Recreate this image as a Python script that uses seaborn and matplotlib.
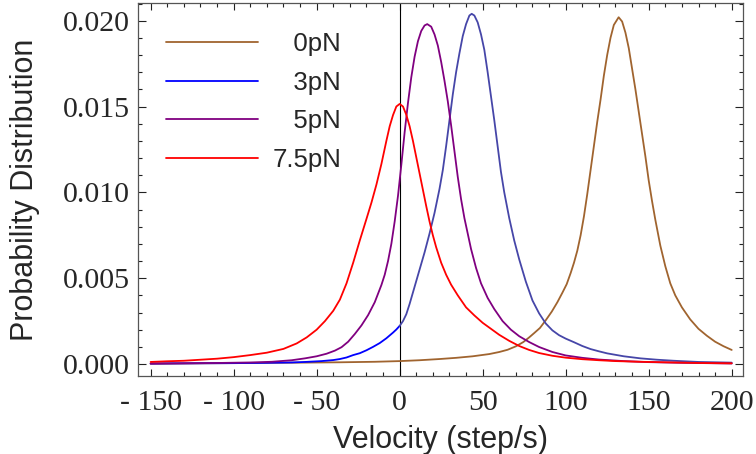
import numpy as np
import pandas as pd
import seaborn as sns
from matplotlib import pyplot as plt
import matplotlib.ticker as ticker
from matplotlib.lines import Line2D

# values (velocity in step/s, probability)
brown_v = [-150, -120, -90, -60, -36, -15, 0, 12, 24, 34, 44, 54, 60, 65, 70, 74.5, 78, 81, 84.5, 88,
           91.6, 95, 98, 100.6, 103, 105, 107, 109, 111, 113, 115, 117, 119, 121, 123, 125, 127, 129,
           131.9, 134, 136, 138, 140, 142, 144, 146, 148, 150, 152, 154, 157, 160, 163, 166, 170,
           175, 180, 185, 190, 195, 200]
brown_p = [0.00002, 0.00004, 0.00006, 0.00008, 0.0001, 0.00013, 0.00017, 0.00022, 0.00029, 0.00036,
           0.00045, 0.00058, 0.0007, 0.00083, 0.00103, 0.00128, 0.00155, 0.0018, 0.0021, 0.00255,
           0.00305, 0.0036, 0.00415, 0.00465, 0.0053, 0.0059, 0.0066, 0.0075, 0.0086, 0.0099,
           0.0113, 0.0127, 0.0141, 0.0154, 0.0168, 0.018, 0.019, 0.01975, 0.0202, 0.01995, 0.0193,
           0.0184, 0.0172, 0.016, 0.0147, 0.0134, 0.0121, 0.0107, 0.0095, 0.0084, 0.0069, 0.0057,
           0.0047, 0.004, 0.0033, 0.0026, 0.00205, 0.00165, 0.0013, 0.00104, 0.00082]

blue_v = [-150, -125, -100, -80, -65, -57, -47, -40, -36, -32, -28, -24, -20, -16, -12, -8, -4, -2, 0,
          2, 4, 6, 9, 12, 15, 18, 21, 24, 26, 28, 30, 32, 34, 36, 38, 40, 42, 43.4, 45, 47, 49, 51,
          53, 55, 57, 59, 61, 63, 66, 69, 72, 76, 80, 84, 88, 92, 96, 100, 105, 110, 115, 120, 125,
          135, 145, 155, 165, 180, 200]
blue_p = [0.00003, 0.00004, 0.00005, 0.00007, 0.00009, 0.00012, 0.00017, 0.00023, 0.00029, 0.00038,
          0.00052, 0.00063, 0.0008, 0.001, 0.00122, 0.0015, 0.00183, 0.00201, 0.00222, 0.0025,
          0.0029, 0.0035, 0.0045, 0.0055, 0.0065, 0.0076, 0.0088, 0.0102, 0.0113, 0.0127, 0.0142,
          0.0157, 0.017, 0.0181, 0.0191, 0.0198, 0.0203, 0.0204, 0.0203, 0.0199, 0.0192, 0.0183,
          0.017, 0.0156, 0.0142, 0.0127, 0.0112, 0.01, 0.0085, 0.0072, 0.0061, 0.0048, 0.0037,
          0.00295, 0.00236, 0.00196, 0.00168, 0.00148, 0.00127, 0.00105, 0.00087, 0.00074, 0.00062,
          0.00045, 0.00033, 0.00025, 0.00019, 0.00012, 0.00008]

purple_v = [-150, -130, -110, -90, -77, -65, -57, -50, -44, -39, -35, -31, -27, -23, -19, -15, -11,
            -9, -7, -5, -3, -1, 1, 3, 5, 7, 9, 11, 13, 15, 16.6, 19, 21, 23, 25, 27, 29, 31, 33, 35,
            37, 39, 41, 43, 46, 49, 53, 57, 62, 67, 72, 78, 84, 92, 100, 110, 120, 135, 150, 170, 200]
purple_p = [0.00002, 0.00004, 0.00006, 0.00009, 0.00013, 0.00022, 0.00033, 0.00045, 0.0006, 0.00078,
            0.00098, 0.0013, 0.00175, 0.00225, 0.00285, 0.0036, 0.0046, 0.0052, 0.006, 0.007, 0.0083,
            0.0098, 0.0116, 0.0135, 0.0152, 0.0167, 0.0179, 0.0188, 0.0194, 0.01972, 0.0198,
            0.01965, 0.0192, 0.01855, 0.0176, 0.0165, 0.0153, 0.0139, 0.0124, 0.0109, 0.0096,
            0.0085, 0.0076, 0.0067, 0.0056, 0.0047, 0.00385, 0.0032, 0.0025, 0.002, 0.00162,
            0.00128, 0.00099, 0.0007, 0.0005, 0.00036, 0.00026, 0.00017, 0.00011, 0.00007, 0.00003]

red_v = [-150, -140, -130, -120, -110, -100, -90, -80, -70, -62, -56, -50, -45, -40, -36, -32, -28,
         -24, -20, -17, -14, -11, -8, -6, -4, -2, 0, 2, 4, 6, 8, 10, 12, 14, 16, 18, 20, 22, 25, 28,
         31, 35, 40, 45, 50, 55, 60, 66, 72, 78, 84, 92, 100, 110, 120, 130, 145, 160, 180, 200]
red_p = [0.00012, 0.00016, 0.00019, 0.00025, 0.00031, 0.0004, 0.00052, 0.00066, 0.00088, 0.0012,
         0.00155, 0.002, 0.0025, 0.0031, 0.00375, 0.0047, 0.0059, 0.0072, 0.00845, 0.0094, 0.01045,
         0.01165, 0.013, 0.01385, 0.0145, 0.015, 0.01515, 0.015, 0.01452, 0.01385, 0.013, 0.01205,
         0.0111, 0.01015, 0.0092, 0.0083, 0.0075, 0.0068, 0.0059, 0.0052, 0.00462, 0.004, 0.0033,
         0.00283, 0.0024, 0.00205, 0.0017, 0.00135, 0.00105, 0.00082, 0.00064, 0.00048, 0.00037,
         0.00028, 0.00022, 0.00017, 0.00013, 0.0001, 0.00006, 0.00004]

forces = ["0pN", "3pN", "5pN", "7.5pN"]
legend_labels = ["   0pN", "   3pN", "   5pN", "7.5pN"]
x_ticks = [-150, -100, -50, 0, 50, 100, 150, 200]
x_ticklabels = ["- 150", "- 100", "- 50", "0", "50", "100", "150", "200"]
y_ticks = [0.0, 0.005, 0.010, 0.015, 0.020]

colors = {"0pN": "#A0642F", "3pN": "#0000FF", "3pN_hi": "#4646A8", "5pN": "#800080", "7.5pN": "#FF0000"}

# long form table, the 3pN curve is split at v=0 (it changes shade there in the original)
rows = []
for name, vs, ps in [("0pN", brown_v, brown_p), ("3pN", blue_v, blue_p),
                     ("5pN", purple_v, purple_p), ("7.5pN", red_v, red_p)]:
    for v, p in zip(vs, ps):
        if name == "3pN":
            if v <= 0:
                rows.append(("3pN", v, p))
            if v >= 0:
                rows.append(("3pN_hi", v, p))
        else:
            rows.append((name, v, p))
df = pd.DataFrame(rows, columns=["seg", "Velocity", "Prob"])

sns.set_style("ticks")
plt.rcParams["font.family"] = ["Liberation Sans", "DejaVu Sans"]

fig = plt.figure(figsize=(7.56, 4.54), dpi=100)
ax = fig.add_axes([0.1832, 0.1725, 0.7996, 0.8209])

sns.lineplot(data=df, x="Velocity", y="Prob", hue="seg", palette=colors,
             hue_order=["0pN", "3pN", "3pN_hi", "5pN", "7.5pN"],
             estimator=None, errorbar=None, lw=1.3, legend=False, ax=ax)
ax.axvline(0, color="black", lw=0.8, zorder=1)

ax.set_xlim(-157.3, 206.8)
ax.set_ylim(-0.00068, 0.02103)

ax.set_xticks(x_ticks)
ax.set_xticklabels(x_ticklabels, family="Liberation Serif", fontsize=21.5)
ax.set_yticks(y_ticks)
ax.set_yticklabels([f"{y:.3f}" for y in y_ticks], family="Liberation Serif", fontsize=21.5)
ax.xaxis.set_minor_locator(ticker.MultipleLocator(10))
ax.yaxis.set_minor_locator(ticker.MultipleLocator(0.001))
ax.tick_params(which="both", direction="in", top=True, right=True, color="#222222", width=0.8)
ax.tick_params(which="major", length=5, pad=10.5)
ax.tick_params(which="minor", length=2.8)
ax.tick_params(axis="y", which="major", length=5.8, pad=6)
for sp in ax.spines.values():
    sp.set_color("#555555")
    sp.set_linewidth(0.9)

ax.set_xlabel("Velocity (step/s)", fontsize=22, labelpad=6)
ax.set_ylabel("Probability Distribution", fontsize=22, labelpad=17)

handles = [Line2D([], [], color=colors[f], lw=1.3) for f in forces]
ax.legend(handles, legend_labels, loc="upper left", bbox_to_anchor=(0.045, 0.921),
          frameon=False, fontsize=18.5, handlelength=3.6, handletextpad=0.55,
          labelspacing=0.56, borderpad=0, borderaxespad=0)

fig.savefig("out.png", dpi=100)
